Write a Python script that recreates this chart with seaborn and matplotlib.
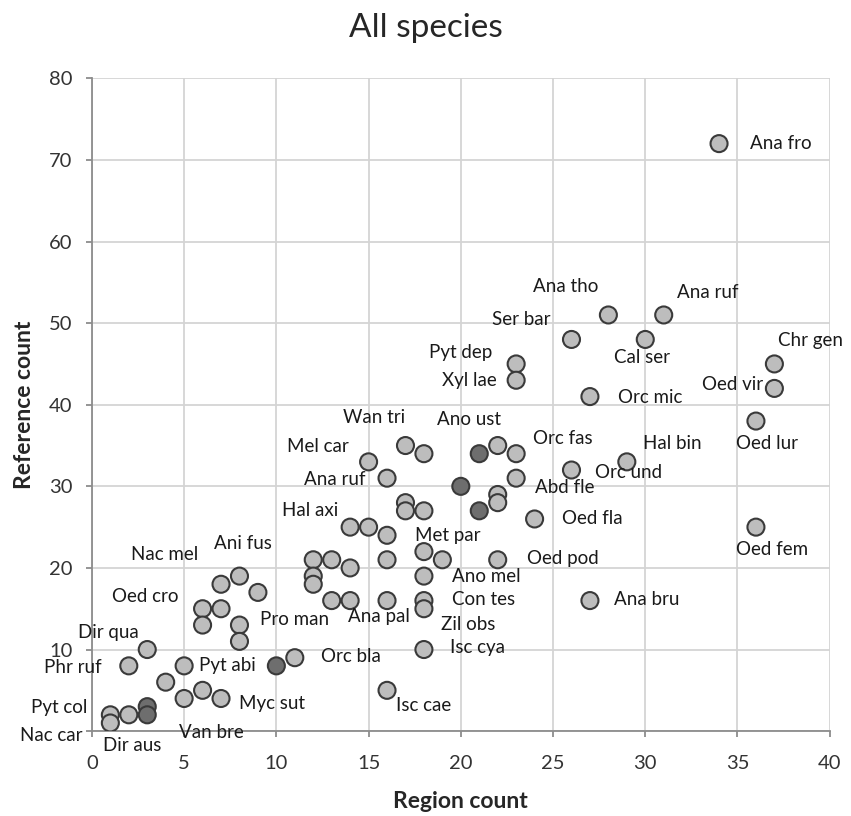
import matplotlib
matplotlib.use("Agg")
import matplotlib.pyplot as plt
import pandas as pd
import seaborn as sns

sns.set_style("white")
plt.rcParams['font.family'] = ['Lato', 'DejaVu Sans']

# region count / reference count per species
region = [1, 1, 2, 2, 3, 3, 3, 4, 5, 5, 6, 7, 6, 7, 6, 7, 8, 9, 8, 8,
          10, 11, 12, 13, 12, 12, 13, 14, 14, 16, 16, 14, 15, 16, 15, 16,
          17, 18, 17, 17, 18, 18, 19, 18, 18, 18, 18, 16, 20, 21, 21, 22,
          23, 23, 22, 22, 22, 24, 23, 23, 26, 28, 31, 30, 27, 26, 29, 27,
          37, 37, 36, 36, 34]
reference = [2, 1, 2, 8, 10, 3, 2, 6, 8, 4, 5, 4, 15, 15, 13, 18, 19, 17, 13, 11,
             8, 9, 21, 21, 19, 18, 16, 16, 20, 16, 21, 25, 25, 24, 33, 31,
             35, 34, 28, 27, 27, 22, 21, 19, 16, 15, 10, 5, 30, 34, 27, 35,
             34, 31, 29, 28, 21, 26, 45, 43, 48, 51, 51, 48, 41, 32, 33, 16,
             45, 42, 38, 25, 72]
# darker markers
dark = [(3, 3), (3, 2), (10, 8), (20, 30), (21, 34), (21, 27)]

names = ["Ana fro", "Ana tho", "Ana ruf", "Ser bar", "Cal ser", "Chr gen",
         "Pyt dep", "Xyl lae", "Oed vir", "Orc mic", "Wan tri", "Ano ust",
         "Orc fas", "Hal bin", "Oed lur", "Mel car", "Orc und", "Ana ruf",
         "Abd fle", "Hal axi", "Oed fla", "Met par", "Oed fem", "Ani fus",
         "Oed pod", "Nac mel", "Ano mel", "Oed cro", "Con tes", "Ana bru",
         "Pro man", "Ana pal", "Zil obs", "Dir qua", "Isc cya", "Orc bla",
         "Phr ruf", "Pyt abi", "Myc sut", "Pyt col", "Isc cae", "Van bre",
         "Nac car", "Dir aus"]
# text anchor (left edge, centre) in data units
name_x = [35.7, 23.9, 31.7, 21.7, 28.3, 37.2, 18.3, 19.0, 33.1, 28.5, 13.6, 18.7,
          23.9, 29.9, 34.9, 10.6, 27.3, 11.5, 24.0, 10.3, 25.5, 17.5, 34.9, 6.6,
          23.6, 2.1, 19.5, 1.1, 19.5, 28.3, 9.1, 13.9, 18.9, -0.76, 19.4, 12.4,
          -2.6, 5.8, 8.0, -3.3, 16.5, 4.7, -3.9, 0.6]
name_y = [72, 54.5, 53.8, 50.4, 45.8, 47.9, 46.4, 43.0, 42.5, 40.9, 38.4, 38.2,
          35.9, 35.3, 35.2, 34.9, 31.7, 30.8, 29.8, 27.0, 26.1, 24.0, 22.3, 23.0,
          21.2, 21.6, 19.0, 16.5, 16.1, 16.1, 13.7, 14.0, 13.1, 12.1, 10.2, 9.1,
          7.8, 8.1, 3.4, 2.9, 3.2, -0.2, -0.5, -1.8]

df = pd.DataFrame({"region": region, "reference": reference})
df["kind"] = ["dark" if (a, b) in dark else "light" for a, b in zip(region, reference)]

fig, ax = plt.subplots(figsize=(8.51, 8.16), dpi=100)
fig.subplots_adjust(left=0.108, right=0.975, top=0.904, bottom=0.104)

sns.scatterplot(data=df, x="region", y="reference", hue="kind",
                palette={"light": "#bdbdbd", "dark": "#6e6e6e"},
                s=150, edgecolor="#3a3a3a", linewidth=1.5, legend=False,
                ax=ax, zorder=3)

for t, tx, ty in zip(names, name_x, name_y):
    ax.text(tx, ty, t, fontsize=13.5, color="#1a1a1a", ha="left", va="center",
            clip_on=False, zorder=4)

ax.set_xlim(0, 40)
ax.set_ylim(0, 80)
ax.set_xticks(range(0, 41, 5))
ax.set_yticks(range(0, 81, 10))
ax.set_yticklabels([""] + [str(v) for v in range(10, 81, 10)])
ax.grid(True, color="#d4d4d4", linewidth=1.3)
ax.set_axisbelow(True)
for s in ["top", "right"]:
    ax.spines[s].set_visible(False)
for s in ["left", "bottom"]:
    ax.spines[s].set_color("#8c8c8c")
    ax.spines[s].set_linewidth(1.3)
ax.tick_params(axis="both", labelsize=14.5, colors="#8c8c8c", labelcolor="#333333",
               length=4, width=1.3, direction="out", bottom=True, left=True)
ax.tick_params(axis="y", pad=10)
ax.tick_params(axis="x", pad=13)
ax.set_xlabel("Region count", fontsize=16.5, fontweight="bold", labelpad=14)
ax.set_ylabel("Reference count", fontsize=16.5, fontweight="bold", labelpad=10)
fig.text(0.5, 1 - 28 / 816, "All species", fontsize=24, ha="center", va="center")

fig.savefig("out.png", dpi=100)
